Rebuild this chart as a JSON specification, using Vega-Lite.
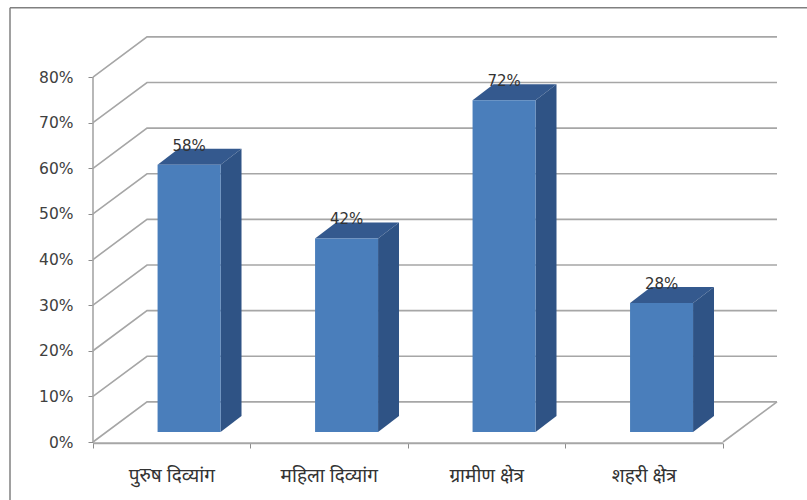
{
  "$schema": "https://vega.github.io/schema/vega-lite/v6.json",
  "width": 807,
  "height": 500,
  "padding": 0,
  "autosize": "none",
  "background": "white",
  "config": {
    "view": {"stroke": null},
    "axis": {"grid": false, "domain": false, "title": null}
  },
  "datasets": {
    "shares": [
      {"category": "पुरुष दिव्यांग", "share": 0.58},
      {"category": "महिला दिव्यांग", "share": 0.42},
      {"category": "ग्रामीण क्षेत्र", "share": 0.72},
      {"category": "शहरी क्षेत्र", "share": 0.28}
    ],
    "levels": [
      {"level": 0}, {"level": 0.1}, {"level": 0.2}, {"level": 0.3}, {"level": 0.4},
      {"level": 0.5}, {"level": 0.6}, {"level": 0.7}, {"level": 0.8}
    ]
  },
  "data": {"name": "shares"},
  "transform": [
    {"window": [{"op": "row_number", "as": "n"}]},
    {"calculate": "datum.n - 1 + 0.41", "as": "left"},
    {"calculate": "datum.n - 1 + 0.81", "as": "right"},
    {"calculate": "datum.n - 1 + 0.5", "as": "slot"},
    {"calculate": "0.022", "as": "base"},
    {"calculate": "0.022 + datum.share * 1.01", "as": "top"}
  ],
  "layer": [
    {
      "description": "Outer frame, top edge",
      "data": {"values": [{}]},
      "mark": {"type": "rule", "color": "#808080", "strokeWidth": 1.5},
      "encoding": {
        "x": {
          "datum": -0.527,
          "type": "quantitative",
          "scale": {"domain": [0, 4.343], "range": [93, 777], "nice": false, "zero": false},
          "axis": {"values": [0, 1, 2, 3, 4], "labels": false, "tickSize": 5, "tickColor": "#8c8c8c", "offset": -57}
        },
        "x2": {"datum": 4.6},
        "y": {
          "datum": 0.952,
          "type": "quantitative",
          "scale": {"domain": [0, 0.89], "range": [442, 36], "nice": false, "zero": false},
          "axis": {
            "values": [0, 0.1, 0.2, 0.3, 0.4, 0.5, 0.6, 0.7, 0.8],
            "format": ".0%",
            "tickSize": 5,
            "tickColor": "#8c8c8c",
            "labelPadding": 15,
            "labelFont": "DejaVu Sans",
            "labelFontSize": 15.5,
            "labelColor": "#404040",
            "offset": -93
          }
        }
      }
    },
    {
      "description": "Outer frame, left edge",
      "data": {"values": [{}]},
      "mark": {"type": "rule", "color": "#808080", "strokeWidth": 1.5},
      "encoding": {
        "x": {"datum": -0.527, "type": "quantitative"},
        "y": {"datum": 0.952, "type": "quantitative"},
        "y2": {"datum": -0.13}
      }
    },
    {
      "description": "Gridlines folded across the side wall and along the back wall",
      "data": {"name": "levels"},
      "transform": [
        {"calculate": "[0, 1, 2]", "as": "step"},
        {"flatten": ["step"]},
        {"calculate": "datum.step === 0 ? 0 : (datum.step === 1 ? 0.343 : 4.343)", "as": "px"},
        {"calculate": "datum.level + (datum.step === 0 ? 0 : 0.088)", "as": "py"}
      ],
      "mark": {"type": "line", "color": "#a6a6a6", "strokeWidth": 1.6},
      "encoding": {
        "x": {"field": "px", "type": "quantitative"},
        "y": {"field": "py", "type": "quantitative"},
        "detail": {"field": "level"},
        "order": {"field": "step"}
      }
    },
    {
      "description": "Front upright of the side wall",
      "data": {"values": [{}]},
      "mark": {"type": "rule", "color": "#a6a6a6", "strokeWidth": 1.6},
      "encoding": {
        "x": {"datum": 0, "type": "quantitative"},
        "y": {"datum": 0, "type": "quantitative"},
        "y2": {"datum": 0.8}
      }
    },
    {
      "description": "Front edge of the floor",
      "data": {"values": [{}]},
      "mark": {"type": "rule", "color": "#a6a6a6", "strokeWidth": 2},
      "encoding": {
        "x": {"datum": 0, "type": "quantitative"},
        "x2": {"datum": 4},
        "y": {"datum": -0.003, "type": "quantitative"}
      }
    },
    {
      "description": "Right edge of the floor",
      "data": {"values": [{"ex": 4, "ey": 0}, {"ex": 4.343, "ey": 0.088}]},
      "mark": {"type": "line", "color": "#a6a6a6", "strokeWidth": 1.6},
      "encoding": {
        "x": {"field": "ex", "type": "quantitative"},
        "y": {"field": "ey", "type": "quantitative"}
      }
    },
    {
      "description": "Top faces of the bars",
      "transform": [
        {"calculate": "[0, 1]", "as": "depth"},
        {"flatten": ["depth"]},
        {"calculate": "datum.left + datum.depth * 0.133", "as": "fx"},
        {"calculate": "datum.right + datum.depth * 0.133", "as": "fx2"},
        {"calculate": "datum.top + datum.depth * 0.035", "as": "fy"}
      ],
      "mark": {"type": "area", "orient": "horizontal", "color": "#34598e"},
      "encoding": {
        "y": {"field": "fy", "type": "quantitative"},
        "x": {"field": "fx", "type": "quantitative"},
        "x2": {"field": "fx2"},
        "detail": {"field": "n"}
      }
    },
    {
      "description": "Side faces of the bars",
      "transform": [
        {"calculate": "[0, 1]", "as": "depth"},
        {"flatten": ["depth"]},
        {"calculate": "datum.right + datum.depth * 0.133", "as": "sx"},
        {"calculate": "datum.base + datum.depth * 0.035", "as": "sy"},
        {"calculate": "datum.top + datum.depth * 0.035", "as": "sy2"}
      ],
      "mark": {"type": "area", "orient": "vertical", "color": "#2f5385"},
      "encoding": {
        "x": {"field": "sx", "type": "quantitative"},
        "y": {"field": "sy", "type": "quantitative"},
        "y2": {"field": "sy2"},
        "detail": {"field": "n"}
      }
    },
    {
      "description": "Front faces of the bars",
      "mark": {"type": "rect", "color": "#4a7ebb"},
      "encoding": {
        "x": {"field": "left", "type": "quantitative"},
        "x2": {"field": "right"},
        "y": {"field": "base", "type": "quantitative"},
        "y2": {"field": "top"}
      }
    },
    {
      "description": "Value labels above the bars",
      "transform": [{"calculate": "(datum.left + datum.right) / 2", "as": "centre"}],
      "mark": {"type": "text", "font": "DejaVu Sans", "fontSize": 15, "color": "#333333", "dy": -19},
      "encoding": {
        "x": {"field": "centre", "type": "quantitative"},
        "y": {"field": "top", "type": "quantitative"},
        "text": {"field": "share", "format": ".0%"}
      }
    },
    {
      "description": "Category names under the floor",
      "transform": [{"calculate": "0", "as": "floor"}],
      "mark": {"type": "text", "font": "Noto Sans", "fontSize": 19, "color": "#333333", "dy": 34},
      "encoding": {
        "x": {"field": "slot", "type": "quantitative"},
        "y": {"field": "floor", "type": "quantitative"},
        "text": {"field": "category"}
      }
    }
  ]
}
